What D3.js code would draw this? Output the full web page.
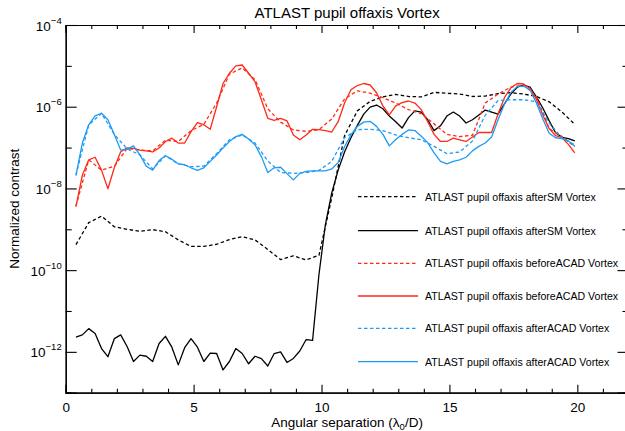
<!DOCTYPE html>
<html><head><meta charset="utf-8">
<script src="https://cdn.jsdelivr.net/npm/d3@7"></script>
<style>
body{margin:0;background:#fff}
svg{display:block}
text{font-family:"Liberation Sans",Arial,sans-serif;fill:#000}
</style>
</head><body>
<svg id="chart" width="625" height="431"></svg>
<script>
// ---------------- data ----------------
const xFine = [0.4,0.65,0.9,1.15,1.4,1.65,1.9,2.15,2.4,2.65,2.9,3.15,3.4,3.65,3.9,4.15,4.4,4.65,4.9,5.15,
  5.4,5.65,5.9,6.15,6.4,6.65,6.9,7.15,7.4,7.65,7.9,8.15,8.4,8.65,8.9,9.15,9.4,9.65,9.9,10.15,
  10.4,10.65,10.9,11.15,11.4,11.65,11.9,12.15,12.4,12.65,12.9,13.15,13.4,13.65,13.9,14.15,14.4,14.65,14.9,15.15,
  15.4,15.65,15.9,16.15,16.4,16.65,16.9,17.15,17.4,17.65,17.9,18.15,18.4,18.65,18.9,19.15,19.4,19.65,19.9];
const xCoarse = [0.4,0.9,1.4,1.9,2.4,2.9,3.4,3.9,4.4,4.9,5.4,5.9,6.4,6.9,7.4,7.9,8.4,8.9,9.4,9.9,
  10.4,10.9,11.4,11.9,12.4,12.9,13.4,13.9,14.4,14.9,15.4,15.9,16.4,16.9,17.4,17.9,18.4,18.9,19.4,19.9];

// afterSM, dashed (coarse grid)
const afterSMDashed = [4.2e-10,1.45e-9,2.1e-9,1.15e-9,1.0e-9,8.9e-10,9.8e-10,8.7e-10,5.5e-10,3.8e-10,
  3.8e-10,4.3e-10,5.6e-10,6.6e-10,5.5e-10,3.2e-10,1.82e-10,2.24e-10,1.78e-10,2.3e-10,
  5.9e-9,1.95e-7,7.9e-7,1.35e-6,1.74e-6,2.0e-6,1.78e-6,1.74e-6,2.24e-6,2.14e-6,
  2.04e-6,1.78e-6,1.82e-6,2.1e-6,2.2e-6,2.04e-6,1.78e-6,1.32e-6,7.4e-7,3.7e-7];
// afterSM, solid (fine grid)
const afterSMSolid = [2.3e-12,2.6e-12,3.7e-12,2.8e-12,1.2e-12,7.6e-13,2.1e-12,2.6e-12,1.35e-12,5.8e-13,
  8.3e-13,7.8e-13,5.8e-13,1.6e-12,2.4e-12,1.3e-12,4.8e-13,1.26e-12,2.1e-12,1.3e-12,
  5.8e-13,9.3e-13,9.1e-13,3.6e-13,5.8e-13,1.2e-12,9.1e-13,5.1e-13,7.8e-13,6.8e-13,
  4.5e-13,9.1e-13,1.0e-12,5.5e-13,6.9e-13,1.05e-12,2.0e-12,1.9e-12,7.8e-11,1.29e-9,
  7.8e-9,2.8e-8,7.8e-8,1.74e-7,3.5e-7,6.6e-7,9.8e-7,1.1e-6,8.9e-7,5.9e-7,
  4.3e-7,3.0e-7,5.4e-7,7.9e-7,7.4e-7,4.8e-7,2.6e-7,3.4e-7,5.9e-7,7.4e-7,
  5.9e-7,4.0e-7,4.8e-7,6.3e-7,8.3e-7,7.4e-7,6.6e-7,1.18e-6,2.04e-6,3.0e-6,
  3.4e-6,3.0e-6,1.74e-6,9.3e-7,4.5e-7,2.3e-7,1.78e-7,1.66e-7,1.45e-7];
// beforeACAD, dashed (coarse grid)
const beforeACADDashed = [3.7e-9,5.0e-8,2.8e-8,3.5e-8,9.5e-8,8.7e-8,8.3e-8,1.51e-7,1.41e-7,2.6e-7,
  3.7e-7,1.23e-6,6.3e-6,8.9e-6,4.6e-6,8.9e-7,4.2e-7,2.7e-7,2.5e-7,2.75e-7,
  5.0e-7,1.55e-6,2.45e-6,2.14e-6,1.66e-6,1.23e-6,8.5e-7,6.8e-7,3.8e-7,2.1e-7,
  1.86e-7,2.0e-7,1.23e-6,2.04e-6,3.0e-6,3.4e-6,1.78e-6,2.9e-7,1.86e-7,1.05e-7];
// beforeACAD, solid (fine grid)
const beforeACADSolid = [3.6e-9,2.1e-8,5.0e-8,5.8e-8,2.8e-8,9.8e-9,3.2e-8,7.9e-8,9.8e-8,9.5e-8,
  8.7e-8,8.3e-8,7.8e-8,9.8e-8,1.41e-7,1.7e-7,1.29e-7,1.29e-7,2.45e-7,4.1e-7,
  3.6e-7,2.8e-7,1.0e-6,3.7e-6,6.6e-6,1.0e-5,1.05e-5,6.6e-6,4.1e-6,1.48e-6,
  5.2e-7,4.6e-7,5.2e-7,4.5e-7,2.04e-7,1.55e-7,2.04e-7,2.8e-7,2.75e-7,2.6e-7,
  2.4e-7,4.3e-7,1.23e-6,2.6e-6,3.3e-6,3.7e-6,3.4e-6,2.2e-6,1.05e-6,6.3e-7,
  1.05e-6,1.26e-6,1.38e-6,1.23e-6,8.5e-7,4.3e-7,2.1e-7,1.41e-7,1.41e-7,1.7e-7,
  1.55e-7,1.41e-7,1.82e-7,2.34e-7,2.34e-7,2.34e-7,6.6e-7,1.66e-6,2.9e-6,3.7e-6,
  3.6e-6,2.8e-6,1.51e-6,6.3e-7,2.9e-7,1.95e-7,1.74e-7,1.2e-7,7.4e-8];
// afterACAD, dashed (coarse grid)
const afterACADDashed = [2.1e-8,3.6e-7,6.9e-7,2.1e-7,9.3e-8,6.6e-8,3.0e-8,6.3e-8,4.0e-8,3.4e-8,
  3.5e-8,7.1e-8,1.55e-7,2.04e-7,1.29e-7,4.7e-8,2.45e-8,2.34e-8,2.45e-8,2.75e-8,
  4.6e-8,1.74e-7,2.75e-7,2.8e-7,2.6e-7,2.04e-7,1.74e-7,1.55e-7,1.07e-7,7.1e-8,
  7.8e-8,1.45e-7,6.2e-7,1.41e-6,1.48e-6,1.48e-6,1.32e-6,4.0e-7,1.7e-7,1.17e-7];
// afterACAD, solid (fine grid)
const afterACADSolid = [2.1e-8,1.29e-7,3.6e-7,6.0e-7,6.9e-7,4.8e-7,2.1e-7,8.7e-8,9.1e-8,1.1e-7,
  6.6e-8,3.5e-8,2.8e-8,4.8e-8,6.3e-8,5.2e-8,4.0e-8,3.8e-8,3.2e-8,2.75e-8,
  3.2e-8,4.6e-8,6.6e-8,9.8e-8,1.41e-7,1.86e-7,2.1e-7,1.62e-7,1.17e-7,6.0e-8,
  2.45e-8,3.2e-8,3.3e-8,2.3e-8,1.62e-8,2.34e-8,2.6e-8,2.7e-8,2.7e-8,2.7e-8,
  3.0e-8,4.3e-8,1.05e-7,2.04e-7,3.3e-7,4.2e-7,4.4e-7,3.3e-7,2.1e-7,1.1e-7,
  1.58e-7,2.1e-7,2.7e-7,2.6e-7,1.9e-7,1.32e-7,7.4e-8,4.6e-8,4.0e-8,4.6e-8,
  5.0e-8,5.8e-8,8.3e-8,1.07e-7,1.29e-7,1.82e-7,4.8e-7,1.15e-6,2.24e-6,3.1e-6,
  3.2e-6,2.6e-6,1.23e-6,5.0e-7,2.24e-7,1.74e-7,1.66e-7,1.45e-7,1.07e-7];

const seriesLabels = [
  "ATLAST pupil offaxis afterSM Vortex",
  "ATLAST pupil offaxis afterSM Vortex",
  "ATLAST pupil offaxis beforeACAD Vortex",
  "ATLAST pupil offaxis beforeACAD Vortex",
  "ATLAST pupil offaxis afterACAD Vortex",
  "ATLAST pupil offaxis afterACAD Vortex"
];
const xMajorTicks = [0,5,10,15,20];
const xMinorTicks = [1,2,3,4,6,7,8,9,11,12,13,14,16,17,18,19,21];
const yMajorTicks = [1e-4,1e-6,1e-8,1e-10,1e-12];
const yMajorExp = ["\u22124","\u22126","\u22128","\u221210","\u221212"];
const yMinorTicks = [1e-5,1e-7,1e-9,1e-11];
const titleText = "ATLAST pupil offaxis Vortex";
const yTitle = "Normalized contrast";

// ---------------- layout ----------------
const svg = d3.select("#chart");
const L = 65.7, R = 628.5, T = 25, B = 392.7;
const x = d3.scaleLinear().domain([0,22]).range([L,R]);
const y = d3.scaleLog().domain([1e-13,1e-4]).range([B,T]);

const RED = "#ff2a17", BLUE = "#1e9bf5", BLACK = "#000";
const series = [
  {xs:xCoarse, ys:afterSMDashed,   color:BLACK, dash:"3.5,2.5"},
  {xs:xFine,   ys:afterSMSolid,    color:BLACK, dash:null},
  {xs:xCoarse, ys:beforeACADDashed,color:RED,   dash:"3.5,2.5"},
  {xs:xFine,   ys:beforeACADSolid, color:RED,   dash:null},
  {xs:xCoarse, ys:afterACADDashed, color:BLUE,  dash:"3.5,2.5"},
  {xs:xFine,   ys:afterACADSolid,  color:BLUE,  dash:null}
];
series.forEach((s,i)=>{ s.label = seriesLabels[i]; });

// axes (ticks point inward)
svg.append("g").attr("transform",`translate(0,${B})`)
  .call(d3.axisBottom(x).tickValues(xMinorTicks).tickSize(-4).tickFormat(""));
const gBottom = svg.append("g").attr("transform",`translate(0,${B})`)
  .call(d3.axisBottom(x).tickValues(xMajorTicks).tickSize(-8).tickPadding(10).tickFormat(d3.format("d")));
svg.append("g").attr("transform",`translate(0,${T})`)
  .call(d3.axisTop(x).tickValues(xMinorTicks).tickSize(-4).tickFormat(""));
svg.append("g").attr("transform",`translate(0,${T})`)
  .call(d3.axisTop(x).tickValues(xMajorTicks).tickSize(-8).tickFormat(""));
svg.append("g").attr("transform",`translate(${L},0)`)
  .call(d3.axisLeft(y).tickValues(yMinorTicks).tickSize(-6).tickFormat(""));
const gLeft = svg.append("g").attr("transform",`translate(${L},0)`)
  .call(d3.axisLeft(y).tickValues(yMajorTicks).tickSize(-11).tickFormat(""));
svg.append("g").attr("transform",`translate(${R},0)`)
  .call(d3.axisRight(y).tickValues(yMinorTicks).tickSize(-6).tickFormat(""));
svg.append("g").attr("transform",`translate(${R},0)`)
  .call(d3.axisRight(y).tickValues(yMajorTicks).tickSize(-11).tickFormat(""));

svg.selectAll(".domain").attr("stroke","#000").attr("stroke-width",1.2);
svg.selectAll(".tick line").attr("stroke","#000").attr("stroke-width",1.1);
gBottom.selectAll(".tick text").attr("font-size","13.5px").attr("font-family","Liberation Sans, Arial, sans-serif").attr("fill","#000");

// y tick labels with superscript exponent
gLeft.selectAll(".tick").each(function(d,i){
  const t = d3.select(this).append("text")
    .attr("x",-4).attr("y",5).attr("text-anchor","end").attr("fill","#000")
    .attr("font-family","Liberation Sans, Arial, sans-serif");
  t.append("tspan").attr("font-size","13.5px").text("10");
  t.append("tspan").attr("font-size","9.5px").attr("dy",-7).text(yMajorExp[i]);
});

// lines
const line = d3.line().x(d=>x(d[0])).y(d=>y(d[1]));
const gLines = svg.append("g");
series.forEach(s=>{
  const pts = s.xs.map((xv,i)=>[xv,s.ys[i]]);
  gLines.append("path").datum(pts)
    .attr("d",line).attr("fill","none")
    .attr("stroke",s.color).attr("stroke-width",1.3)
    .attr("stroke-linejoin","round")
    .attr("stroke-dasharray",s.dash);
});

// legend
const legend = svg.append("g");
const legY = [196.7,230.7,263.3,296,328.3,361.7];
series.forEach((s,i)=>{
  legend.append("line").attr("x1",358).attr("x2",418).attr("y1",legY[i]).attr("y2",legY[i])
    .attr("stroke",s.color).attr("stroke-width",1.3).attr("stroke-dasharray",s.dash);
  legend.append("text").attr("x",425).attr("y",legY[i]+3.8).attr("font-size","10.6px").text(s.label);
});

// titles
svg.append("text").attr("x",(L+R)/2).attr("y",18).attr("text-anchor","middle")
  .attr("font-size","15px").text(titleText);
const xt = svg.append("text").attr("x",(L+R)/2).attr("y",427).attr("text-anchor","middle").attr("font-size","13.5px");
xt.append("tspan").text("Angular separation (\u03bb");
xt.append("tspan").attr("font-size","9.5px").attr("dy",3).text("0");
xt.append("tspan").attr("dy",-3).text("/D)");
svg.append("text").attr("transform",`translate(19,${(T+B)/2}) rotate(-90)`)
  .attr("text-anchor","middle").attr("font-size","13.5px").text(yTitle);
</script>
</body></html>
